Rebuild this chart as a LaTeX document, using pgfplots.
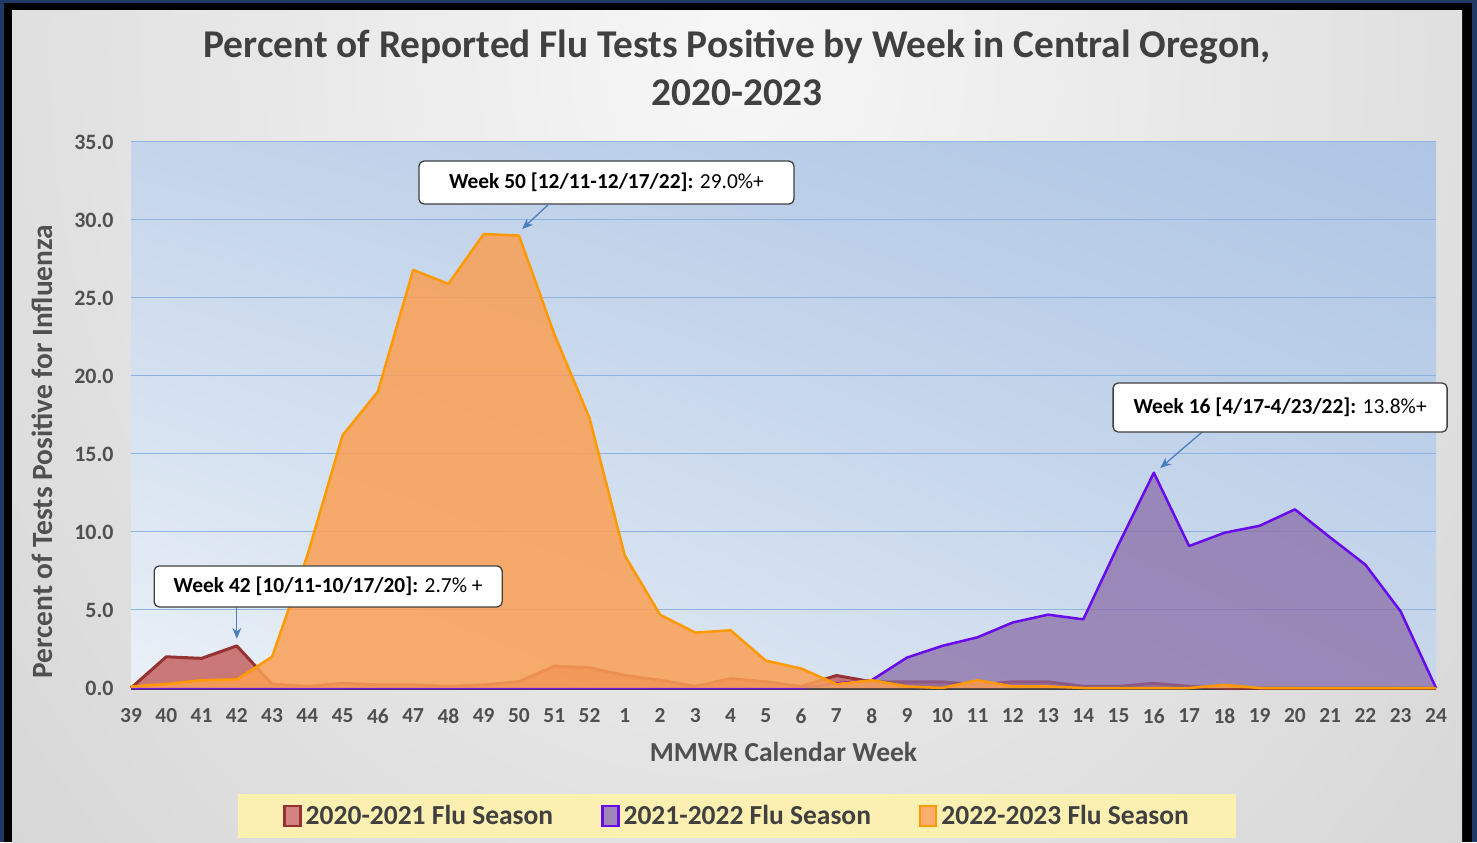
\documentclass[border=0pt]{standalone}
\usepackage{fontspec}
\setmainfont{Carlito}
\usepackage{pgfplots}
\usepackage{pgfplotstable}
\pgfplotsset{compat=1.18}
\usetikzlibrary{arrows.meta,shadings}

\definecolor{navy}{RGB}{31,56,100}
\definecolor{bgin}{RGB}{247,247,247}
\definecolor{bgout}{RGB}{196,196,196}
\definecolor{pUL}{RGB}{196,213,235}
\definecolor{pUR}{RGB}{174,197,228}
\definecolor{pLL}{RGB}{234,240,247}
\definecolor{pLR}{RGB}{200,216,236}
\definecolor{gridblue}{RGB}{143,178,222}
\definecolor{axisgray}{RGB}{64,64,64}
\definecolor{tickgray}{RGB}{80,80,80}
\definecolor{titlegray}{RGB}{64,64,64}
\definecolor{redline}{RGB}{150,50,50}
\definecolor{redfill}{RGB}{192,80,77}
\definecolor{purpline}{RGB}{104,10,235}
\definecolor{purpfill}{RGB}{135,105,165}
\definecolor{orline}{RGB}{255,153,0}
\definecolor{orfill}{RGB}{250,160,85}
\definecolor{legyellow}{RGB}{251,239,178}
\definecolor{arrowblue}{RGB}{74,126,190}

\pgfplotstableread{
idx red purple orange
0  0.0 0.0  0.1
1  2.0 0.0  0.25
2  1.9 0.0  0.5
3  2.7 0.0  0.55
4  0.25 0.0 2.0
5  0.1 0.0  8.5
6  0.3 0.0  16.2
7  0.2 0.0  19.0
8  0.2 0.0  26.8
9  0.1 0.0  25.9
10 0.2 0.0  29.1
11 0.4 0.0  29.0
12 1.4 0.0  22.7
13 1.3 0.0  17.3
14 0.8 0.0  8.5
15 0.5 0.0  4.7
16 0.1 0.0  3.55
17 0.6 0.0  3.7
18 0.4 0.0  1.75
19 0.1 0.0  1.25
20 0.8 0.3  0.25
21 0.4 0.5  0.5
22 0.4 1.95 0.1
23 0.4 2.7  0.0
24 0.2 3.25 0.5
25 0.4 4.2  0.1
26 0.4 4.7  0.1
27 0.1 4.4  0.0
28 0.1 9.2  0.0
29 0.3 13.8 0.0
30 0.1 9.1  0.0
31 0.0 9.95 0.2
32 0.0 10.4 0.0
33 0.0 11.45 0.0
34 0.0 9.65 0.0
35 0.0 7.9  0.0
36 0.0 4.9  0.0
37 0.0 0.0  0.0
}\flu

\begin{document}
\begin{tikzpicture}
\begin{scope}[x=1bp,y=1bp]
\useasboundingbox (0,0) rectangle (1477,842);
\fill[navy] (0,0) rectangle (1477,842);
\fill[black] (4,0) rectangle (1472,839);
\begin{scope}
\clip (12,0) rectangle (1462,831);
\fill[bgout] (12,0) rectangle (1462,831);
\shade[inner color=bgin, outer color=bgout] (737-1560,790-1900) rectangle (737+1560,790+1900);
\end{scope}
\fill[legyellow] (238,4) rectangle (1236,48);
\end{scope}

\begin{axis}[
  at={(131bp,154bp)}, anchor=south west,
  scale only axis, width=1305bp, height=546bp,
  xmin=0, xmax=37, ymin=0, ymax=35,
  clip=false,
  axis background/.style={shade, upper left=pUL, upper right=pUR, lower left=pLL, lower right=pLR},
  axis x line*=bottom, axis y line*=left,
  x axis line style={-, line width=3bp, color=axisgray},
  y axis line style={draw=none},
  major tick length=0pt, tick style={draw=none},
  xtick={0,...,37},
  xticklabels={39,40,41,42,43,44,45,46,47,48,49,50,51,52,1,2,3,4,5,6,7,8,9,10,11,12,13,14,15,16,17,18,19,20,21,22,23,24},
  ytick={0,5,...,35},
  yticklabels={0.0,5.0,10.0,15.0,20.0,25.0,30.0,35.0},
  ymajorgrids, grid style={color=gridblue, line width=1bp},
  xticklabel style={font=\bfseries\fontsize{21.5}{21.5}\selectfont, color=tickgray, yshift=-17bp},
  yticklabel style={font=\bfseries\fontsize{22}{22}\selectfont, color=tickgray, xshift=-14bp},
  xlabel={MMWR Calendar Week},
  xlabel style={at={(axis description cs:0.5,-0.117)}, anchor=center, font=\bfseries\fontsize{27.6}{27.6}\selectfont, color=tickgray},
  ylabel={Percent of Tests Positive for Influenza},
  ylabel style={at={(axis description cs:-0.0682,0.433)}, anchor=center, font=\bfseries\fontsize{29.5}{29.5}\selectfont, color=tickgray},
  title={Percent of Reported Flu Tests Positive by Week in Central Oregon,\\2020-2023},
  title style={at={(axis description cs:0.4644,1.1245)}, anchor=center, align=center, font=\bfseries\fontsize{39.5}{48}\selectfont, color=titlegray},
  legend style={at={(0.4644,-0.2344)}, anchor=center, draw=none, fill=none, legend columns=3,
    font=\bfseries\fontsize{27.6}{27.6}\selectfont, text=axisgray,
    /tikz/every even column/.append style={column sep=46bp}},
  legend image code/.code={\draw[#1, line width=2.5bp] (0bp,-10bp) rectangle (16bp,10bp); \path (19bp,0bp);},
]
\addplot[draw=none, fill=redfill, fill opacity=0.75, forget plot] table[x=idx,y=red]{\flu} \closedcycle;
\addplot[redline, line width=3bp, line join=round, forget plot] table[x=idx,y=red]{\flu};
\addplot[draw=none, fill=purpfill, fill opacity=0.72, forget plot] table[x=idx,y=purple]{\flu} \closedcycle;
\addplot[purpline, line width=2.5bp, line join=round, forget plot] table[x=idx,y=purple]{\flu};
\addplot[draw=none, fill=orfill, fill opacity=0.86, forget plot] table[x=idx,y=orange]{\flu} \closedcycle;
\addplot[orline, line width=2.5bp, line join=round, forget plot] table[x=idx,y=orange]{\flu};

\addlegendimage{draw=redline, fill=redfill!70!white}
\addlegendentry{2020-2021 Flu Season}
\addlegendimage{draw=purpline, fill=purpfill!80!white}
\addlegendentry{2021-2022 Flu Season}
\addlegendimage{draw=orline, fill=orfill!85!white}
\addlegendentry{2022-2023 Flu Season}

\tikzset{callout/.style={draw=axisgray, line width=1.3bp, fill=white, rounded corners=5bp, font=\fontsize{21.5}{21.5}\selectfont, text=black, inner sep=0pt},
         arr/.style={draw=arrowblue, line width=1.3bp, -{Stealth[length=11bp,width=9bp]}}}
\draw[arr] (axis cs:3.0,5.19) -- (axis cs:3.0,3.15);
\node[callout, minimum width=348bp, minimum height=41bp] at (axis cs:5.59,6.51) {\textbf{Week 42 [10/11-10/17/20]:} 2.7\% +};
\draw[arr] (axis cs:11.82,30.96) -- (axis cs:11.09,29.42);
\node[callout, minimum width=375bp, minimum height=43bp] at (axis cs:13.48,32.4) {\textbf{Week 50 [12/11-12/17/22]:} 29.0\%+};
\draw[arr] (axis cs:30.37,16.41) -- (axis cs:29.18,14.1);
\node[callout, minimum width=334bp, minimum height=49bp] at (axis cs:32.58,17.98) {\textbf{Week 16 [4/17-4/23/22]:} 13.8\%+};
\end{axis}
\end{tikzpicture}
\end{document}
